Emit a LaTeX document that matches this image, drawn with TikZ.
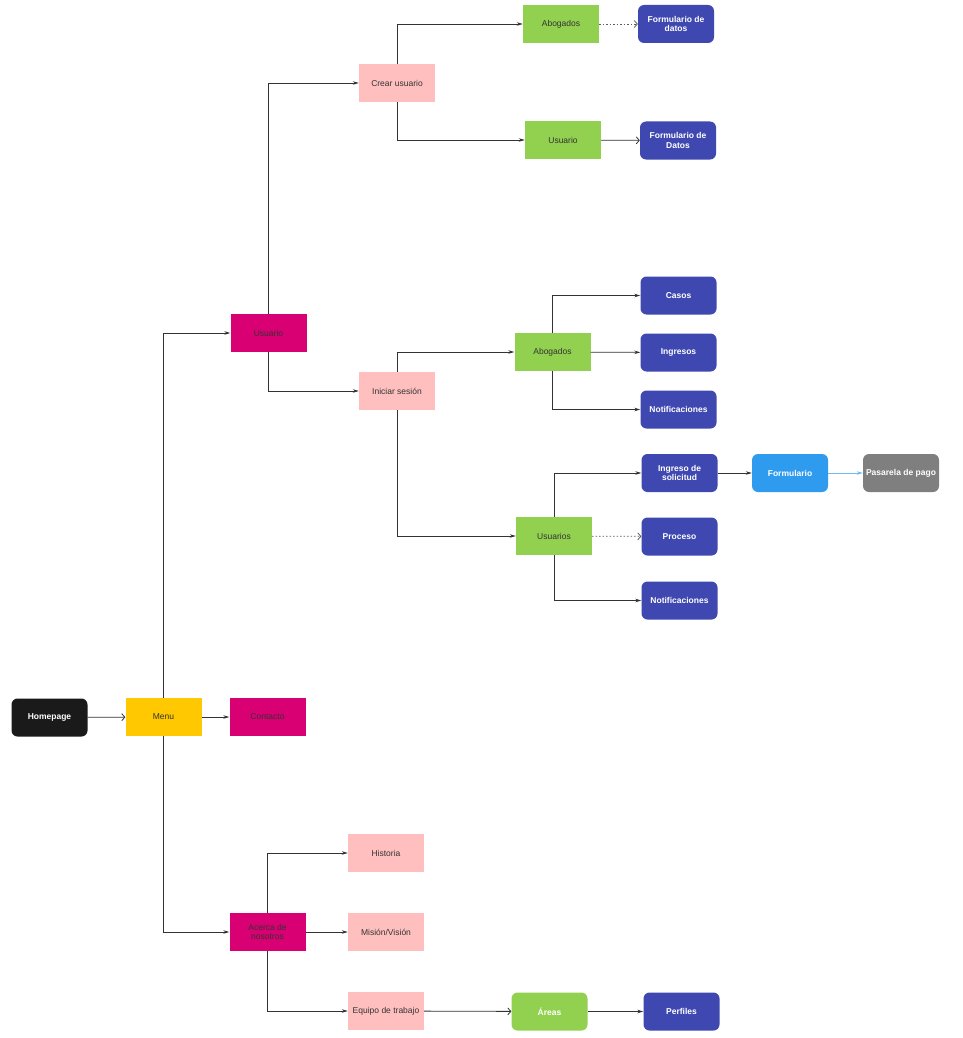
\documentclass[tikz,border=0pt]{standalone}
\usepackage{fontspec}
\setmainfont{Liberation Sans}
\usetikzlibrary{arrows.meta}
\definecolor{cyellow}{HTML}{FFC800}
\definecolor{cmag}{HTML}{D80073}
\definecolor{cpink}{HTML}{FFBFBF}
\definecolor{cgreen}{HTML}{92D050}
\definecolor{cblue}{HTML}{3F48B0}
\definecolor{clblue}{HTML}{2E9BEE}
\definecolor{cgray}{HTML}{7F7F7F}
\definecolor{cblack}{HTML}{1A1A1A}
\definecolor{cline}{HTML}{333333}
\definecolor{ctext}{HTML}{333333}
\begin{document}
\begin{tikzpicture}[x=1pt,y=-1pt,
  box/.style={minimum width=76pt,minimum height=38pt,inner sep=1pt,align=center,font=\fontsize{8.5}{9.5}\selectfont,text=ctext},
  sq/.style={box,fill=#1},
  rb/.style={box,fill=#1,rounded corners=6pt,text=white,font=\fontsize{8.5}{9.5}\selectfont\bfseries},
  conn/.style={draw=cline,line width=0.8pt,-{Stealth[length=6pt,width=3.5pt]}},
  oconn/.style={draw=cline,line width=0.8pt,-{Straight Barb[length=3pt,width=7pt]}},
  dconn/.style={oconn,draw=cline!80,dash pattern=on 1.5pt off 2pt}]
\useasboundingbox (0,0) rectangle (962,1038);
% nodes
\node[rb=cblack] (home) at (49.5,717.5) {Homepage};
\node[sq=cyellow] (menu) at (163.5,717) {Menu};
\node[sq=cmag] (contacto) at (267.5,717) {Contacto};
\node[sq=cmag] (usuario) at (268.5,333) {Usuario};
\node[sq=cmag] (acerca) at (267.5,932) {Acerca de\\nosotros};
\node[sq=cpink] (crear) at (397,83) {Crear usuario};
\node[sq=cpink] (iniciar) at (397,391) {Iniciar sesión};
\node[sq=cgreen] (abog1) at (561,24) {Abogados};
\node[sq=cgreen] (usu1) at (563,140) {Usuario};
\node[rb=cblue] (form1) at (676,24) {Formulario de\\datos};
\node[rb=cblue] (form2) at (678,140.5) {Formulario de\\Datos};
\node[sq=cgreen] (abog2) at (552.5,352) {Abogados};
\node[rb=cblue] (casos) at (678.5,295.5) {Casos};
\node[rb=cblue] (ingresos) at (678.5,352.5) {Ingresos};
\node[rb=cblue] (notif1) at (678.5,409.5) {Notificaciones};
\node[sq=cgreen] (usuarios) at (554,536) {Usuarios};
\node[rb=cblue] (ingreso) at (679.5,473) {Ingreso de\\solicitud};
\node[rb=cblue] (proceso) at (679.5,536.5) {Proceso};
\node[rb=cblue] (notif2) at (679.5,600.5) {Notificaciones};
\node[rb=clblue] (formulario) at (790,473) {Formulario};
\node[rb=cgray] (pasarela) at (901,473) {Pasarela de pago};
\node[sq=cpink] (historia) at (386,853) {Historia};
\node[sq=cpink] (mision) at (386,932) {Misión/Visión};
\node[sq=cpink] (equipo) at (386,1011) {Equipo de trabajo};
\node[rb=cgreen] (areas) at (549.5,1011.5) {Áreas};
\node[rb=cblue] (perfiles) at (681.5,1011.5) {Perfiles};
% connectors
\draw[oconn] (home) -- (menu);
\draw[conn] (menu) -- (contacto);
\draw[conn] (menu.north) |- (usuario.west);
\draw[conn] (menu.south) |- (acerca.west);
\draw[conn] (usuario.north) |- (crear.west);
\draw[conn] (usuario.south) |- (iniciar.west);
\draw[conn] (crear.north) |- (abog1.west);
\draw[conn] (crear.south) |- (usu1.west);
\draw[dconn] (abog1) -- (form1);
\draw[oconn] (usu1) -- (form2);
\draw[conn] (iniciar.north) |- (abog2.west);
\draw[conn] (iniciar.south) |- (usuarios.west);
\draw[conn] (abog2.north) |- (casos.west);
\draw[conn] (abog2) -- (ingresos);
\draw[conn] (abog2.south) |- (notif1.west);
\draw[conn] (usuarios.north) |- (ingreso.west);
\draw[dconn] (usuarios) -- (proceso);
\draw[conn] (usuarios.south) |- (notif2.west);
\draw[conn] (ingreso) -- (formulario);
\draw[conn,draw=clblue!70] (formulario) -- (pasarela);
\draw[conn] (acerca.north) |- (historia.west);
\draw[conn] (acerca) -- (mision);
\draw[conn] (acerca.south) |- (equipo.west);
\draw[oconn] (equipo) -- (areas);
\draw[conn] (areas) -- (perfiles);
\end{tikzpicture}
\end{document}
